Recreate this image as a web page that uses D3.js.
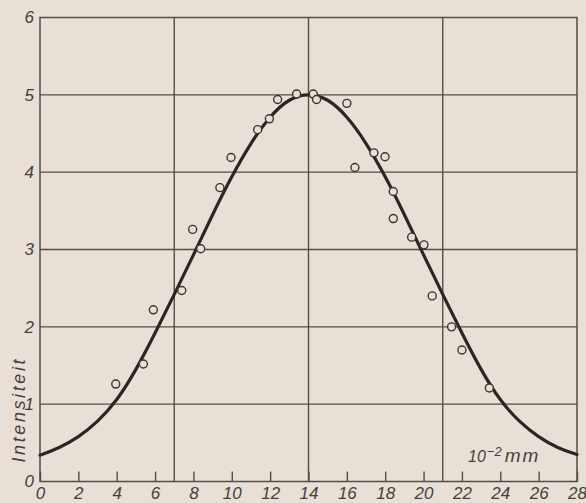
<!DOCTYPE html>
<html>
<head>
<meta charset="utf-8">
<script src="https://cdn.jsdelivr.net/npm/d3@7"></script>
<style>
  html, body { margin: 0; padding: 0; background: #e8e0d6; }
  svg { display: block; }
</style>
</head>
<body>
<svg id="chart" width="586" height="503"></svg>
<script>
// ---- data ----
const xTicks = [0, 2, 4, 6, 8, 10, 12, 14, 16, 18, 20, 22, 24, 26, 28];
const yTicks = [0, 1, 2, 3, 4, 5, 6];
const xGrid = [7, 14, 21];
const yGrid = [1, 2, 3, 4, 5];

// measured points (x in 10^-2 mm, intensity)
const pointX = [3.95, 5.39, 5.91, 7.39, 7.96, 8.38, 9.38, 9.96, 11.35, 11.96, 12.39, 13.38, 14.25, 14.42, 16.0, 16.42, 17.41, 17.99, 18.42, 18.42, 19.38, 20.02, 20.45, 21.46, 22.0, 23.43];
const pointY = [1.26, 1.52, 2.22, 2.47, 3.26, 3.01, 3.80, 4.19, 4.55, 4.69, 4.94, 5.01, 5.01, 4.94, 4.89, 4.06, 4.25, 4.20, 3.75, 3.40, 3.16, 3.06, 2.40, 2.00, 1.70, 1.21];

// smooth curve, read at each unit
const curveX = [0, 1, 2, 3, 4, 5, 6, 7, 8, 9, 10, 11, 12, 13, 14, 15, 16, 17, 18, 19, 20, 21, 22, 23, 24, 25, 26, 27, 28];
const curveY = [0.34, 0.44, 0.58, 0.78, 1.06, 1.45, 1.92, 2.42, 2.93, 3.45, 3.94, 4.37, 4.71, 4.93, 5.00, 4.93, 4.71, 4.37, 3.94, 3.45, 2.93, 2.42, 1.92, 1.45, 1.06, 0.78, 0.58, 0.44, 0.35];

// ---- layout ----
const svg = d3.select("#chart");
const mLeft = 40, mRight = 577, mTop = 17.5, mBottom = 481.5;
const x = d3.scaleLinear().domain([0, 28]).range([mLeft, mRight]);
const y = d3.scaleLinear().domain([0, 6]).range([mBottom, mTop]);

const ink = "#524e46";
const dark = "#2a2722";
const textCol = "#45413a";
const bg = "#e8e0d6";
const font = "'Liberation Sans', Arial, sans-serif";

// grid lines
svg.append("g").selectAll("line").data(yGrid).join("line")
  .attr("x1", mLeft).attr("x2", mRight)
  .attr("y1", d => y(d)).attr("y2", d => y(d))
  .attr("stroke", ink).attr("stroke-width", 1.4);
svg.append("g").selectAll("line").data(xGrid).join("line")
  .attr("y1", mTop).attr("y2", mBottom)
  .attr("x1", d => x(d)).attr("x2", d => x(d))
  .attr("stroke", ink).attr("stroke-width", 1.4);

// frame
svg.append("rect")
  .attr("x", mLeft).attr("y", mTop)
  .attr("width", mRight - mLeft).attr("height", mBottom - mTop)
  .attr("fill", "none").attr("stroke", ink).attr("stroke-width", 1.5);

// x axis ticks (inward) and labels
const xAxis = d3.axisBottom(x).tickValues(xTicks).tickSize(-10).tickPadding(8)
  .tickFormat(d3.format("d"));
const gx = svg.append("g").attr("transform", `translate(0,${mBottom})`).call(xAxis);
gx.select(".domain").remove();
gx.selectAll(".tick line").attr("stroke", ink).attr("stroke-width", 1.4);
gx.selectAll(".tick text")
  .attr("fill", textCol).attr("font-family", font).attr("font-style", "italic")
  .attr("font-size", 17).attr("y", 5).attr("dy", "0.71em");

// y axis labels
const yAxis = d3.axisLeft(y).tickValues(yTicks).tickSize(0).tickPadding(5)
  .tickFormat(d3.format("d"));
const gy = svg.append("g").attr("transform", `translate(${mLeft - 1},0)`).call(yAxis);
gy.select(".domain").remove();
gy.selectAll(".tick text")
  .attr("fill", textCol).attr("font-family", font).attr("font-style", "italic")
  .attr("font-size", 17);

// curve
const line = d3.line()
  .x((d, i) => x(curveX[i]))
  .y((d, i) => y(curveY[i]))
  .curve(d3.curveNatural);
svg.append("path")
  .datum(curveX)
  .attr("d", line)
  .attr("fill", "none").attr("stroke", dark).attr("stroke-width", 3.2)
  .attr("stroke-linecap", "round");

// points
svg.append("g").selectAll("circle").data(pointX).join("circle")
  .attr("cx", (d, i) => x(pointX[i]))
  .attr("cy", (d, i) => y(pointY[i]))
  .attr("r", 4)
  .attr("fill", bg).attr("stroke", "#3a362f").attr("stroke-width", 1.4);

// y title
svg.append("text")
  .attr("transform", `translate(25,411) rotate(-90)`)
  .attr("text-anchor", "middle")
  .attr("font-family", font).attr("font-style", "italic").attr("font-size", 18)
  .attr("fill", textCol)
  .attr("textLength", 103).attr("lengthAdjust", "spacing")
  .text("Intensiteit");

// unit label
const unit = svg.append("text")
  .attr("x", 468).attr("y", 462)
  .attr("font-family", font).attr("font-style", "italic")
  .attr("fill", textCol);
unit.append("tspan").attr("font-size", 16).text("10");
unit.append("tspan").attr("font-size", 13).attr("dy", -6).attr("dx", 1).text("−2");
unit.append("tspan").attr("font-size", 19).attr("dy", 6).attr("dx", 3)
  .attr("letter-spacing", 2).text("mm");
</script>
</body>
</html>
